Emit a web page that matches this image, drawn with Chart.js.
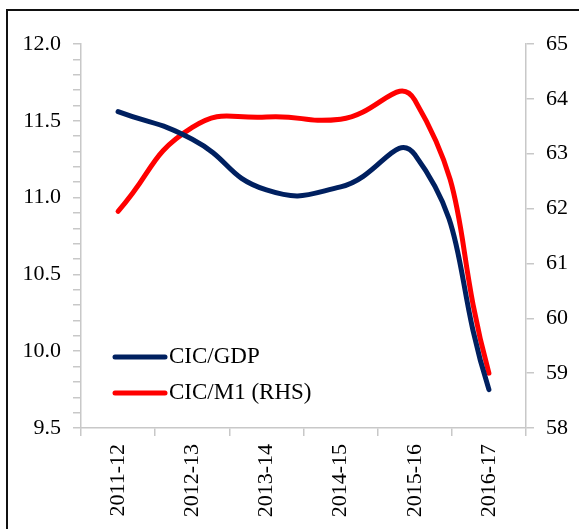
<!DOCTYPE html>
<html>
<head>
<meta charset="utf-8">
<script src="https://cdn.jsdelivr.net/npm/chart.js@4/dist/chart.umd.min.js"></script>
<style>
  html, body { margin: 0; padding: 0; background: #fff; overflow: hidden; width: 579px; height: 529px; }
  #frame { position: absolute; left: 6px; top: 9px; width: 700px; height: 700px; border: 2px solid #111; box-sizing: border-box; }
  #wrap { position: absolute; left: 0; top: 0; width: 579px; height: 529px; }
</style>
</head>
<body>
<div id="frame"></div>
<div id="wrap"><canvas id="c" width="579" height="529"></canvas></div>
<script>
const categories = ["2011-12", "2012-13", "2013-14", "2014-15", "2015-16", "2016-17"];
const cicGdp = [11.56, 11.38, 11.05, 11.07, 11.28, 9.75];
const cicM1 = [61.95, 63.48, 63.67, 63.63, 63.98, 59.0];
const seriesNames = ["CIC/GDP", "CIC/M1 (RHS)"];
const seriesColors = ["#002060", "#FF0000"];

const FONT = "'Liberation Serif', 'Times New Roman', serif";
const axisGray = "#c8c8c8";

const legendPlugin = {
  id: 'innerLegend',
  afterDraw(chart) {
    const ctx = chart.ctx;
    const a = chart.chartArea;
    const items = chart.data.datasets;
    ctx.save();
    items.forEach((ds, i) => {
      const y = a.bottom - 71 + i * 36;
      const x0 = a.left + 34;
      ctx.strokeStyle = ds.borderColor;
      ctx.lineWidth = 5;
      ctx.lineCap = 'round';
      ctx.beginPath();
      ctx.moveTo(x0, y);
      ctx.lineTo(x0 + 50, y);
      ctx.stroke();
      ctx.fillStyle = '#000';
      ctx.font = "23px " + FONT;
      ctx.textBaseline = 'middle';
      ctx.textAlign = 'left';
      ctx.fillText(ds.label, x0 + 54, y);
    });
    ctx.restore();
  }
};

new Chart(document.getElementById('c'), {
  type: 'line',
  data: {
    labels: categories,
    datasets: [
      { label: seriesNames[0], data: cicGdp, borderColor: seriesColors[0], backgroundColor: seriesColors[0], yAxisID: 'y', borderWidth: 5, pointRadius: 0, tension: 0.5, borderCapStyle: 'round', fill: false },
      { label: seriesNames[1], data: cicM1, borderColor: seriesColors[1], backgroundColor: seriesColors[1], yAxisID: 'y1', borderWidth: 5, pointRadius: 0, tension: 0.5, borderCapStyle: 'round', fill: false }
    ]
  },
  options: {
    responsive: false,
    animation: false,
    layout: { padding: { top: 44, left: 0, right: 0, bottom: 0 } },
    plugins: { legend: { display: false }, tooltip: { enabled: false } },
    scales: {
      x: {
        offset: true,
        grid: { offset: true, drawOnChartArea: false, drawTicks: true, tickLength: 8, color: axisGray, lineWidth: 1.5 },
        border: { display: true, color: axisGray, width: 1.5 },
        ticks: { minRotation: 90, maxRotation: 90, padding: 8, color: '#000', font: { family: FONT, size: 22 } },
        afterFit(s) { s.height = 101; }
      },
      y: {
        position: 'left',
        min: 9.5, max: 12.0,
        grid: { drawOnChartArea: false, tickLength: 8, color: axisGray, lineWidth: 1.5 },
        border: { display: true, color: axisGray, width: 1.5 },
        ticks: {
          stepSize: 0.1, autoSkip: false, padding: 12, color: '#000', font: { family: FONT, size: 22 },
          callback(v) { const t = Math.round(v * 10); return t % 5 === 0 ? (t / 10).toFixed(1) : ''; }
        },
        afterFit(s) { s.width = 81; }
      },
      y1: {
        position: 'right',
        min: 58, max: 65,
        grid: { drawOnChartArea: false, tickLength: 8, color: axisGray, lineWidth: 1.5 },
        border: { display: true, color: axisGray, width: 1.5 },
        ticks: { stepSize: 1, padding: 12, color: '#000', font: { family: FONT, size: 22 } },
        afterFit(s) { s.width = 53; }
      }
    }
  },
  plugins: [legendPlugin]
});
</script>
</body>
</html>
